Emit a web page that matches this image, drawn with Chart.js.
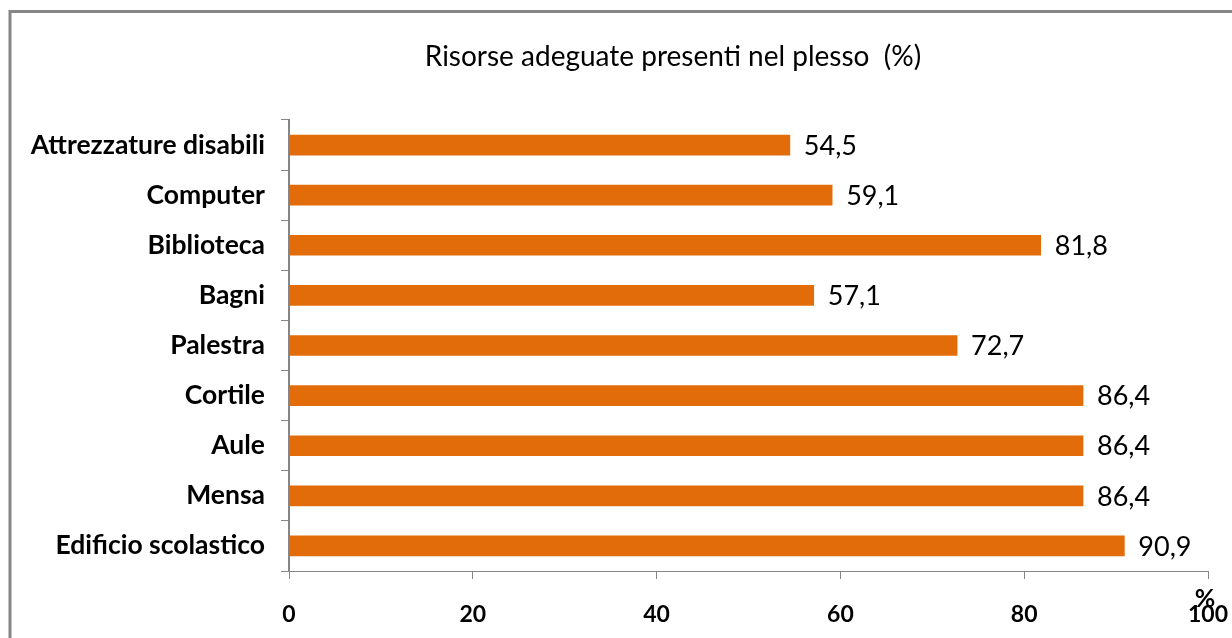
<!DOCTYPE html>
<html>
<head>
<meta charset="utf-8">
<script src="https://cdn.jsdelivr.net/npm/chart.js@4.4.0/dist/chart.umd.min.js"></script>
<style>
  html, body { margin: 0; padding: 0; background: #fff; overflow: hidden; }
  canvas { display: block; }
</style>
</head>
<body>
<canvas id="chart" width="1232" height="638"></canvas>
<script>
// Data
const categories = [
    'Attrezzature disabili', 'Computer', 'Biblioteca', 'Bagni', 'Palestra',
    'Cortile', 'Aule', 'Mensa', 'Edificio scolastico'
];
const values = [54.5, 59.1, 81.8, 57.1, 72.7, 86.4, 86.4, 86.4, 90.9];
const xTicks = [0, 20, 40, 60, 80, 100];
const chartTitle = 'Risorse adeguate presenti nel plesso  (%)';
const axisUnit = '%';

const FONT = 'Lato, "Open Sans", sans-serif';
const BAR = '#E36C0A';
const AXIS = '#868686';

// Frame, title, value labels and the "%" unit
const extras = {
    id: 'extras',
    beforeDraw(chart) {
        const ctx = chart.ctx;
        ctx.save();
        ctx.strokeStyle = AXIS;
        ctx.lineWidth = 3;
        ctx.strokeRect(10, 11.5, 1260, 660);
        ctx.restore();
    },
    afterDatasetsDraw(chart) {
        const ctx = chart.ctx;
        ctx.save();
        ctx.fillStyle = '#000';
        ctx.font = '28px ' + FONT;
        ctx.textAlign = 'center';
        ctx.textBaseline = 'middle';
        ctx.fillText(chartTitle, 673, 57);

        ctx.font = '27px ' + FONT;
        ctx.textAlign = 'left';
        const meta = chart.getDatasetMeta(0);
        meta.data.forEach((bar, i) => {
            ctx.fillText(values[i].toFixed(1).replace('.', ','), bar.x + 14, bar.y + 1);
        });

        const xs = chart.scales.x;
        ctx.font = 'bold 25px ' + FONT;
        ctx.textAlign = 'center';
        ctx.fillText(axisUnit, xs.getPixelForValue(100) - 3, 599);
        ctx.restore();
    }
};

new Chart(document.getElementById('chart'), {
    type: 'bar',
    data: {
        labels: categories,
        datasets: [{
            data: values,
            backgroundColor: BAR,
            barThickness: 20
        }]
    },
    options: {
        indexAxis: 'y',
        responsive: false,
        animation: false,
        layout: { padding: { top: 120, right: 24, left: 0, bottom: 0 } },
        plugins: {
            legend: { display: false },
            tooltip: { enabled: false }
        },
        scales: {
            x: {
                min: 0,
                max: 100,
                afterBuildTicks(scale) {
                    scale.ticks = xTicks.map(v => ({ value: v }));
                },
                afterFit(scale) {
                    scale.height = 67;
                    scale.paddingLeft = 0;
                    scale.paddingRight = 0;
                },
                border: { color: AXIS, width: 1 },
                grid: { drawOnChartArea: false, color: AXIS, tickLength: 8, lineWidth: 1 },
                ticks: {
                    color: '#000',
                    padding: 22,
                    font: { family: FONT, size: 23, weight: 'bold' }
                }
            },
            y: {
                afterFit(scale) { scale.width = 289; },
                border: { color: AXIS, width: 2 },
                grid: { drawOnChartArea: false, color: AXIS, tickLength: 8, lineWidth: 1, offset: true },
                ticks: {
                    color: '#000',
                    padding: 16,
                    font: { family: FONT, size: 26.5, weight: 'bold' }
                }
            }
        }
    },
    plugins: [extras]
});
</script>
</body>
</html>
